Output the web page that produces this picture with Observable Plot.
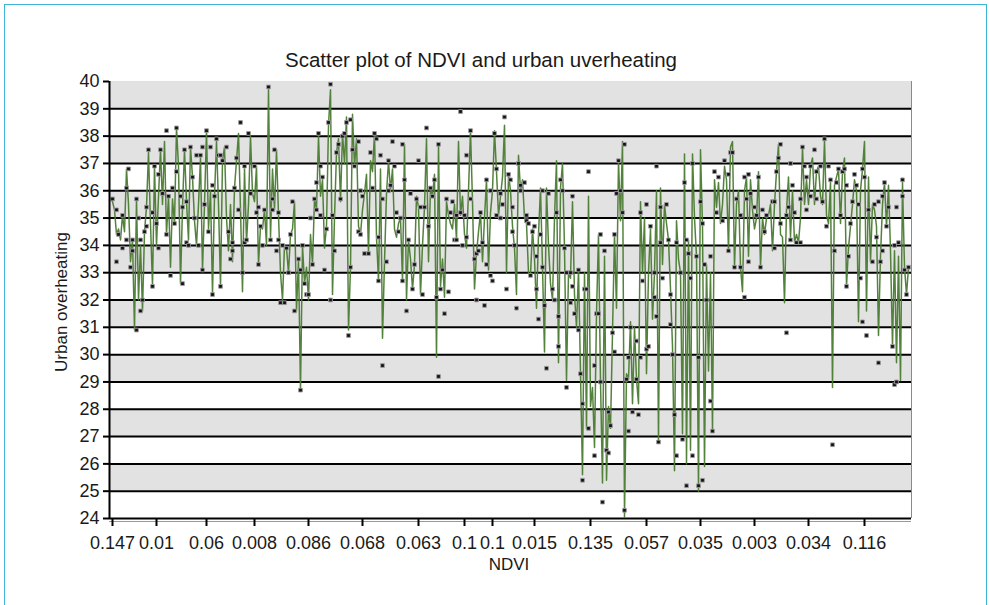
<!DOCTYPE html>
<html>
<head>
<meta charset="utf-8">
<script src="https://cdn.jsdelivr.net/npm/d3@7"></script>
<script src="https://cdn.jsdelivr.net/npm/@observablehq/plot@0.6"></script>
<style>
  html, body { margin: 0; padding: 0; background: #fff; }
  #wrap { position: relative; width: 989px; height: 605px; overflow: hidden;
          font-family: "Liberation Sans", Arial, Helvetica, sans-serif; color: #1a1a1a; }
  #frame { position: absolute; left: 4px; top: 4px; width: 983px; height: 660px;
           border: 1.5px solid #3bb5d8; box-sizing: border-box; }
  #chart { position: absolute; left: 0; top: 0; }
  #title { position: absolute; left: 231px; width: 500px; top: 48px; text-align: center; font-size: 20.5px; }
  #xlab { position: absolute; left: 459px; width: 100px; top: 555px; text-align: center; font-size: 17px; }
  #ylab { position: absolute; left: 62px; top: 302px; font-size: 17px; white-space: nowrap;
          transform: translate(-50%, -50%) rotate(-90deg); }
</style>
</head>
<body>
<div id="wrap">
  <div id="frame"></div>
  <div id="chart"></div>
  <div id="title">Scatter plot of NDVI and urban uverheating</div>
  <div id="xlab">NDVI</div>
  <div id="ylab">Urban overheating</div>
</div>
<script>
// ---- data ----
const yTicks = [24,25,26,27,28,29,30,31,32,33,34,35,36,37,38,39,40];
const gridVals = [24,25,26,27,28,29,30,31,32,33,34,35,36,37,38,39];
const bandStarts = [25,27,29,31,33,35,37,39];

// category index of labelled ticks and their NDVI labels
const tickPos = [1, 23, 48, 72, 99, 126, 154, 177, 191, 212, 240, 268, 295, 322, 349, 377];
const tickLabels = ["0.147","0.01","0.06","0.008","0.086","0.068","0.063","0.1","0.1","0.015","0.135","0.057","0.035","0.003","0.034","0.116"];

// connected series (one value per category index 0..399)
const lineVals = [
  35.7,35.6,35.3,34.4,34.6,34.2,35.1,34.5,36.8,35.5,
  33.4,34.2,30.9,35.7,32.0,34.0,31.6,34.5,35.4,37.4,
  34.8,32.5,36.9,34.0,35.8,37.5,35.5,37.8,34.4,35.8,
  33.2,35.7,34.8,38.3,36.9,32.6,35.4,37.5,35.6,34.2,
  37.6,36.5,34.9,34.0,35.5,37.2,33.1,35.5,38.2,34.6,
  36.0,32.2,35.8,37.8,35.5,32.5,37.1,37.6,35.0,33.8,
  35.5,33.4,36.1,37.1,38.1,35.3,32.3,36.8,34.1,35.5,
  38.0,35.9,35.6,36.9,33.3,34.7,34.6,35.3,34.0,39.7,
  34.3,36.8,35.3,37.5,35.1,33.0,32.0,34.0,33.9,33.0,
  34.4,34.6,35.6,31.6,33.5,28.7,34.0,32.6,33.2,32.0,
  34.4,33.3,35.7,35.3,38.0,35.8,36.4,33.9,34.7,38.4,
  39.7,32.2,35.0,37.4,37.9,35.6,38.1,37.0,38.7,30.9,
  33.2,38.8,36.9,37.9,34.7,34.4,35.3,35.9,36.6,33.7,
  37.1,36.7,38.1,34.3,32.7,36.8,30.6,33.4,35.9,37.1,
  36.0,36.8,34.6,34.3,34.8,35.0,32.7,37.7,32.0,34.2,
  33.5,32.4,33.3,35.8,35.4,32.2,34.0,35.4,37.9,33.4,
  36.1,35.8,36.6,29.9,37.7,32.5,33.5,32.1,35.6,35.1,
  34.8,34.6,35.5,34.2,37.8,35.1,35.8,34.4,33.9,36.0,
  38.2,35.6,32.4,33.7,34.5,35.2,33.4,35.0,36.4,33.1,
  35.2,36.0,38.2,36.7,35.1,35.8,36.5,38.4,33.0,36.6,
  36.0,34.7,33.9,32.2,37.3,36.0,36.4,35.0,34.8,33.0,
  32.9,34.6,33.5,31.7,34.4,36.1,33.2,30.1,36.1,34.0,
  32.6,32.0,35.0,37.1,29.7,36.1,37.0,33.9,29.05,33.0,
  32.8,35.6,32.2,31.0,33.1,29.3,25.6,33.0,27.3,35.8,
  28.1,28.8,26.6,31.5,34.4,29.0,25.3,33.6,25.4,28.1,
  27.3,30.8,34.4,31.7,37.1,34.9,37.8,24.05,29.3,29.1,
  31.2,28.2,31.0,29.1,28.2,35.6,33.0,35.0,29.3,33.0,
  34.6,31.3,33.0,36.0,26.85,36.1,33.3,35.5,34.8,34.2,
  32.4,30.3,25.75,34.9,33.5,33.0,27.1,37.35,26.0,34.2,
  26.5,37.35,35.0,33.6,25.0,37.5,34.7,25.9,33.3,29.4,
  33.0,27.2,36.4,35.4,36.3,34.8,35.5,36.9,36.4,33.8,
  37.6,37.8,33.2,35.5,36.0,33.2,32.3,36.0,36.5,33.6,
  36.4,35.3,34.6,35.0,36.7,33.2,35.0,34.4,35.0,35.1,
  35.5,33.8,35.5,36.7,37.7,34.4,34.3,31.9,35.3,36.5,
  34.3,36.0,34.1,34.4,34.1,35.0,37.6,35.5,36.4,35.5,
  36.9,37.2,35.5,36.7,36.9,35.8,35.5,37.85,35.1,34.8,
  36.3,28.8,36.2,36.5,36.8,34.8,36.7,37.2,32.5,33.9,
  34.7,35.5,36.4,36.0,31.2,36.0,36.8,37.8,31.6,36.5,
  33.4,35.5,35.3,34.7,30.7,33.6,35.5,36.3,34.7,36.2,
  33.8,30.3,33.8,29.7,33.6,29.05,36.3,33.2,32.2,33.2
];

// scatter markers: [category index, urban overheating]
const markerPts = [
  [1,35.7],[3,35.3],[3,33.4],[4,34.4],[6,33.9],[6,35.1],[8,34.2],[8,36.1],[9,36.8],[10,33.2],[11,34.2],[11,33.8],
  [13,30.9],[13,35.7],[14,35.0],[15,31.6],[15,34.2],[16,32.0],[17,34.5],[18,35.4],[18,34.7],[19,37.5],[21,35.2],[21,32.5],
  [22,36.9],[23,34.8],[24,33.9],[24,36.6],[25,37.5],[26,35.9],[28,38.2],[28,34.4],[29,35.8],[30,32.9],[31,36.1],[32,34.8],
  [33,38.3],[33,36.7],[35,35.8],[36,32.6],[36,35.4],[37,37.5],[38,34.1],[38,35.6],[39,34.0],[40,37.6],[41,36.5],[42,35.0],
  [43,37.3],[44,34.0],[45,37.3],[46,33.1],[46,37.6],[47,35.5],[48,38.2],[49,34.5],[50,37.6],[51,32.2],[51,36.2],[52,35.8],
  [53,37.9],[54,37.3],[55,32.5],[55,37.3],[56,37.1],[58,37.6],[59,34.5],[60,33.5],[61,33.8],[61,34.1],[62,36.1],[63,37.2],
  [64,35.3],[65,38.5],[66,33.0],[67,34.1],[67,36.9],[68,34.2],[69,38.1],[70,35.9],[72,36.9],[73,35.2],[74,35.4],[74,33.3],
  [75,34.7],[76,34.0],[77,35.3],[79,39.8],[80,34.2],[81,35.7],[81,35.3],[82,37.5],[83,33.8],[84,35.2],[84,34.2],[85,31.9],
  [86,34.0],[87,31.9],[88,33.9],[89,33.0],[90,34.4],[91,35.6],[92,31.6],[94,33.5],[95,33.1],[95,28.7],[96,34.0],[97,32.6],
  [98,32.2],[99,32.2],[100,35.0],[101,33.3],[102,35.7],[103,35.3],[103,36.3],[104,38.1],
  [105,36.9],[105,35.1],[106,36.5],[107,33.1],[108,34.6],[109,38.5],[110,39.9],[110,32.0],[111,35.1],[112,33.8],[113,37.4],
  [114,37.7],[115,35.7],[116,38.0],[117,38.1],[118,38.5],[119,30.7],[120,33.2],[120,38.6],[121,37.5],[122,36.9],[124,37.8],
  [124,34.5],[125,36.0],[125,34.4],[126,35.8],[127,33.7],[129,33.7],[130,37.4],[131,36.1],[132,38.1],[133,37.9],[134,34.3],
  [134,32.7],[135,37.3],[136,35.7],[136,29.6],[138,33.4],[139,36.0],[139,37.1],[140,36.2],[141,37.8],[142,36.9],[143,35.2],
  [144,34.5],[145,35.0],[146,32.7],[146,37.7],[147,36.4],[148,31.6],[149,34.2],[150,35.9],[151,32.4],[152,33.3],[153,35.7],
  [154,37.1],[155,35.4],[156,32.2],[157,35.4],[158,38.3],[159,34.7],[160,36.1],[161,35.8],[162,36.4],[163,32.1],[164,29.2],
  [164,37.7],[165,32.4],[166,33.1],[167,31.5],[168,35.7],[169,32.3],[170,35.2],[171,35.6],[172,34.2],[173,35.1],[173,34.2],
  [175,38.9],[175,35.2],[176,34.0],[177,35.1],[178,37.3],[178,34.3],[180,38.2],[180,35.7],[182,33.5],[183,32.0],[183,33.7],
  [184,33.8],[185,35.2],[186,34.1],[187,31.8],[188,36.4],[188,33.3],[190,36.0],[190,32.9],[191,32.7],[192,38.1],[193,36.8],
  [193,35.1],[195,35.0],[195,35.9],[196,35.5],[197,38.7],[198,32.4],[199,36.6],[200,36.4],[201,35.4],[201,34.5],[202,34.0],
  [203,31.7],[204,37.0],
  [205,36.0],[205,36.2],[207,36.3],[208,35.1],[208,34.9],[209,34.8],[210,32.9],[211,34.5],[212,34.7],[213,33.6],[213,32.4],
  [214,31.3],[215,34.4],[216,36.0],[216,33.2],[217,31.8],[218,29.5],[219,35.9],[221,32.4],[222,32.0],[223,35.2],[224,31.4],
  [224,30.3],[225,36.4],[226,36.0],[227,33.9],[228,28.8],[228,33.0],[230,33.0],[230,31.9],[231,32.5],[231,35.8],[232,31.5],
  [234,30.9],[234,33.1],[235,29.3],[236,25.4],[236,28.2],[237,32.4],[238,32.4],[239,27.3],[239,36.7],[242,29.6],[242,26.3],
  [243,31.5],[244,31.5],[245,34.4],[245,29.0],[246,24.6],[247,33.8],[248,26.5],[249,26.4],[249,27.9],[250,27.4],[251,30.8],
  [252,34.4],[252,30.1],[253,35.9],[254,37.1],[255,36.0],[256,35.2],[257,37.7],[257,24.3],[258,29.1],[259,27.2],[259,29.9],
  [260,31.0],[261,27.9],[263,29.1],[263,30.5],[264,27.8],[265,29.9],[265,35.2],[266,32.7],[268,35.5],[268,30.2],[269,30.3],
  [270,34.7],[272,32.1],[272,33.0],[273,31.4],[273,36.9],[274,26.8],[275,34.1],[275,35.4],[276,32.8],[278,35.5],[279,34.2],
  [280,31.1],[280,32.2],[281,30.0],[282,27.8],[283,26.3],[283,34.1],[285,33.0],[286,26.9],[287,36.3],[288,34.2],[288,25.2],
  [289,33.7],[290,32.8],[291,26.3],[291,37.0],[293,33.6],[294,29.9],[294,25.2],[295,35.6],[296,34.8],[296,25.4],[297,33.3],
  [298,32.0],[300,28.3],[300,33.6],[301,27.2],[302,36.7],[303,35.2],[304,36.5],[306,34.9],[307,37.1],[309,36.6],[309,33.8],
  [310,37.4],[311,37.4],[312,33.2],[313,35.7],[315,35.1],[315,33.2],[317,32.1],[317,36.5],[318,35.7],[319,36.6],[319,33.4],
  [320,35.9],[322,35.4],[323,35.1],[324,36.5],[325,33.2],[326,35.3],[327,34.5],[328,35.1],[331,35.6],[332,33.9],[332,35.6],
  [333,36.7],[334,37.2],[335,37.7],[335,34.8],[338,35.1],[338,30.8],[339,35.4],[340,37.0],[340,34.2],[341,36.2],[342,35.2],
  [343,34.1],[345,34.1],[345,35.7],[346,37.6],[347,36.9],[348,35.3],[348,36.5],[350,36.9],[350,35.8],[352,37.5],[353,35.7],
  [353,36.7],[355,36.9],[356,35.6],[357,37.9],[358,34.7],[359,36.9],[360,36.4],[361,26.7],[362,33.8],[363,36.3],[364,36.8],
  [365,35.1],[366,36.7],[367,36.8],[368,32.5],[368,36.2],[369,33.6],[370,34.8],[371,35.6],[372,36.6],[373,36.2],[374,35.5],
  [375,32.8],[376,31.2],[376,36.8],[377,36.5],[378,30.7],[379,35.3],[381,33.4],[382,35.5],[383,34.3],[384,35.6],[384,29.7],
  [385,33.4],[386,33.8],[386,35.8],[387,36.3],[388,34.7],[389,35.4],[391,30.3],[392,34.0],[392,28.9],[393,35.4],[393,29.0],
  [394,34.1],[396,35.8],[396,36.4],[397,33.1],[398,32.2],[399,33.2]
];

// ---- chart ----
const xDomain = [-0.5, 400.5];
const labelAt = new Map(tickPos.map((p, i) => [p, tickLabels[i]]));

const chart = Plot.plot({
  width: 989,
  height: 605,
  marginLeft: 109,
  marginRight: 78,
  marginTop: 81,
  marginBottom: 87,
  x: { domain: xDomain, axis: null },
  y: { domain: [24, 40], axis: null },
  style: { fontFamily: '"Liberation Sans", Arial, Helvetica, sans-serif', fontSize: "18px",
           color: "#1a1a1a", background: "transparent", overflow: "visible" },
  marks: [
    Plot.rect(bandStarts, { x1: () => xDomain[0], x2: () => xDomain[1], y1: d => d, y2: d => d + 1, fill: "#e2e2e2" }),
    Plot.ruleY(gridVals, { stroke: "#000", strokeWidth: 2 }),
    Plot.ruleY([24], { stroke: "#9a9a9a", strokeWidth: 1, dy: 3 }),
    Plot.ruleX([xDomain[1]], { y1: 24, y2: 40, stroke: "#8a8a8a", strokeWidth: 1 }),
    Plot.line(lineVals, { x: (d, i) => i, y: d => d, stroke: "#4a7b32", strokeWidth: 1.5, strokeOpacity: 0.95 }),
    Plot.dot(markerPts, { x: d => d[0], y: d => d[1], symbol: "square", r: 2.1,
                          fill: "#150d18", stroke: "#9d9d9d", strokeWidth: 0.9 }),
    Plot.ruleX([xDomain[0]], { y1: 24, y2: 40, stroke: "#000", strokeWidth: 2 }),
    Plot.axisY({ ticks: yTicks, tickSize: 6, tickPadding: 4, stroke: "#000", strokeWidth: 2, fill: "#1a1a1a" }),
    Plot.axisX({ ticks: tickPos, tickFormat: d => labelAt.get(d), tickSize: 8, tickPadding: 10,
                 stroke: "#000", strokeWidth: 2, fill: "#1a1a1a" })
  ]
});
document.getElementById("chart").appendChild(chart);
</script>
</body>
</html>
